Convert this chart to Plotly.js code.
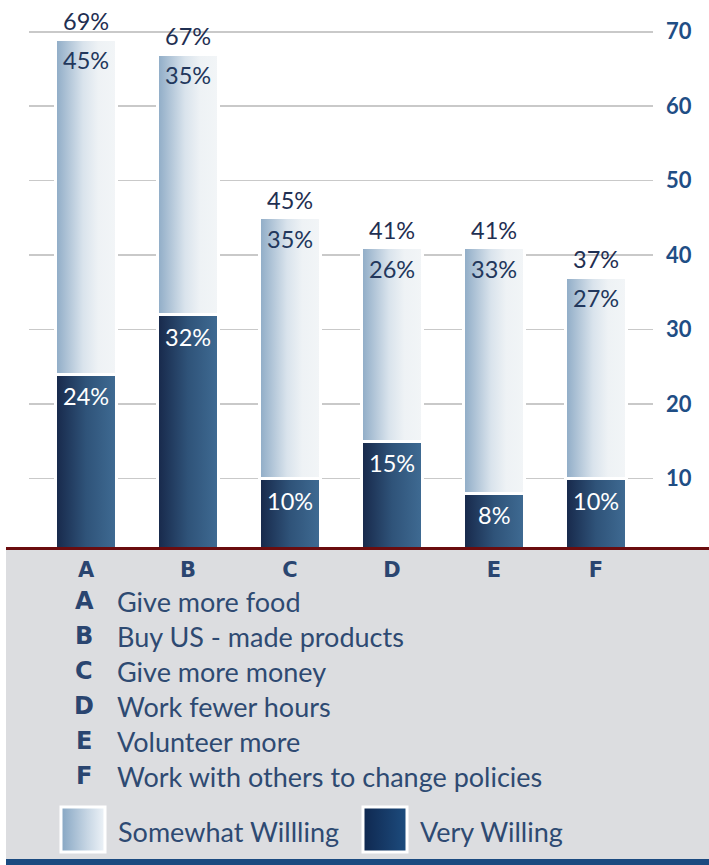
<!DOCTYPE html>
<html><head><meta charset="utf-8">
<script src="https://cdn.plot.ly/plotly-3.0.1.min.js"></script>
<style>html,body{margin:0;padding:0;background:#fff;overflow:hidden}#chart{width:709px;height:865px}</style>
</head><body><div id="chart"></div>
<script>
// ---- data ----
const categories = ['A','B','C','D','E','F'];
const descriptions = ['Give more food','Buy US - made products','Give more money','Work fewer hours','Volunteer more','Work with others to change policies'];
const veryWilling = [24, 32, 10, 15, 8, 10];
const somewhatWilling = [45, 35, 35, 26, 33, 27];
const totalLabels = [69, 67, 45, 41, 41, 37];
const seriesNames = ['Somewhat Willling', 'Very Willing'];
const yTicks = [10, 20, 30, 40, 50, 60, 70];

// ---- geometry helpers (pixel -> paper) ----
const W = 709, H = 865, PL = 29, PR = 653, PT = 2, PB = 550;
const px = x => (x - PL) / (PR - PL);
const py = y => (PB - y) / (PB - PT);

const xs = categories.map((c, i) => i);
const navy = '#1f2f52';
const FONT = 'Lato, "Open Sans", sans-serif';

const data = [
  { type: 'bar', name: seriesNames[1], x: xs, y: veryWilling, width: 0.598,
    marker: { color: '#2c4c74', line: { color: '#ffffff', width: 3 } }, showlegend: false, hoverinfo: 'skip' },
  { type: 'bar', name: seriesNames[0], x: xs, y: somewhatWilling, width: 0.598,
    marker: { color: '#c9d7e3', line: { color: '#ffffff', width: 3 } }, showlegend: false, hoverinfo: 'skip' }
];

const annotations = [];
categories.forEach((c, i) => {
  annotations.push({ xref: 'x', yref: 'y', x: i, y: totalLabels[i], text: totalLabels[i] + '%', showarrow: false,
    yanchor: 'bottom', yshift: 2, font: { family: FONT, size: 23.5, color: navy } });
  annotations.push({ xref: 'x', yref: 'y', x: i, y: veryWilling[i] + somewhatWilling[i], text: somewhatWilling[i] + '%', showarrow: false,
    yanchor: 'top', yshift: -5, font: { family: FONT, size: 23.5, color: '#22375c' } });
  annotations.push({ xref: 'x', yref: 'y', x: i, y: veryWilling[i], text: veryWilling[i] + '%', showarrow: false,
    yanchor: 'top', yshift: -6, font: { family: FONT, size: 23.5, color: '#ffffff' } });
  // legend list
  annotations.push({ xref: 'paper', yref: 'paper', x: px(84), y: py(601 + 35 * i), text: c, showarrow: false,
    xanchor: 'center', yanchor: 'middle', font: { family: '"DejaVu Sans", sans-serif', size: 24, weight: 'bold', color: '#2a4570' } });
  annotations.push({ xref: 'paper', yref: 'paper', x: px(115), y: py(601 + 35 * i), text: descriptions[i], showarrow: false,
    xanchor: 'left', yanchor: 'middle', font: { family: FONT, size: 27, color: '#2e4a72' } });
});
annotations.push({ xref: 'paper', yref: 'paper', x: px(116), y: py(831), text: seriesNames[0], showarrow: false,
  xanchor: 'left', yanchor: 'middle', font: { family: FONT, size: 27, color: '#2e4a72' } });
annotations.push({ xref: 'paper', yref: 'paper', x: px(418), y: py(831), text: seriesNames[1], showarrow: false,
  xanchor: 'left', yanchor: 'middle', font: { family: FONT, size: 27, color: '#2e4a72' } });

const shapes = [
  { type: 'rect', xref: 'paper', yref: 'paper', x0: px(6), x1: px(712), y0: py(550), y1: py(859), fillcolor: '#dcdde0', line: { width: 0 }, layer: 'below' },
  { type: 'rect', xref: 'paper', yref: 'paper', x0: px(6), x1: px(712), y0: py(547), y1: py(550), fillcolor: '#6b0d0f', line: { width: 0 }, layer: 'above' },
  { type: 'rect', xref: 'paper', yref: 'paper', x0: px(6), x1: px(712), y0: py(859), y1: py(868), fillcolor: '#1b4a80', line: { width: 0 }, layer: 'above' },
  { type: 'rect', xref: 'paper', yref: 'paper', x0: px(61), x1: px(105), y0: py(852), y1: py(807), fillcolor: '#b8cadb', line: { color: '#ffffff', width: 3 }, layer: 'above' },
  { type: 'rect', xref: 'paper', yref: 'paper', x0: px(363), x1: px(407), y0: py(852), y1: py(807), fillcolor: '#163a68', line: { color: '#ffffff', width: 3 }, layer: 'above' }
];

const layout = {
  width: W, height: H,
  margin: { l: PL, r: W - PR, t: PT, b: H - PB, pad: 0 },
  paper_bgcolor: '#ffffff', plot_bgcolor: 'rgba(0,0,0,0)',
  barmode: 'stack', showlegend: false,
  xaxis: { range: [-0.559, 5.559], tickvals: xs, ticktext: categories, showgrid: false, zeroline: false, showline: false,
    ticks: '', ticklabelstandoff: 5, tickfont: { family: '"DejaVu Sans", sans-serif', size: 21, weight: 'bold', color: '#2a4570' } },
  yaxis: { side: 'right', range: [0.4, 74], tickvals: yTicks, showgrid: true, gridcolor: '#c9c9c9', gridwidth: 1.5,
    zeroline: false, showline: false, ticks: '', ticklabelstandoff: 12,
    tickfont: { family: FONT, size: 22, weight: 'bold', color: '#1f4e85' } },
  annotations: annotations, shapes: shapes
};

function applyGradients(gd) {
  const NS = 'http://www.w3.org/2000/svg';
  const svg = gd.querySelector('svg.main-svg');
  let defs = svg.querySelector('defs');
  if (!defs) { defs = document.createElementNS(NS, 'defs'); svg.insertBefore(defs, svg.firstChild); }
  function addGrad(id, stops) {
    if (document.getElementById(id)) return;
    const g = document.createElementNS(NS, 'linearGradient');
    g.setAttribute('id', id); g.setAttribute('x1', '0'); g.setAttribute('x2', '1'); g.setAttribute('y1', '0'); g.setAttribute('y2', '0');
    stops.forEach(([o, c]) => { const s = document.createElementNS(NS, 'stop'); s.setAttribute('offset', o); s.setAttribute('stop-color', c); g.appendChild(s); });
    defs.appendChild(g);
  }
  addGrad('gLight', [[0, '#8eabc6'], [0.45, '#d9e3ec'], [0.7, '#eef2f5'], [1, '#f2f5f7']]);
  addGrad('gDark', [[0, '#17284a'], [0.5, '#2f5379'], [1, '#3f6b93']]);
  addGrad('gSwLight', [[0, '#86a6c3'], [0.6, '#c7d6e4'], [1, '#eef3f8']]);
  addGrad('gSwDark', [[0, '#0f2850'], [1, '#1d4c7e']]);
  const traces = svg.querySelectorAll('.barlayer .trace');
  if (traces[0]) traces[0].querySelectorAll('path').forEach(p => p.style.fill = 'url(#gDark)');
  if (traces[1]) traces[1].querySelectorAll('path').forEach(p => p.style.fill = 'url(#gLight)');
  gd.querySelectorAll('path').forEach(p => {
    const f = (p.style.fill || p.getAttribute('fill') || '').replace(/\s/g, '');
    if (f === 'rgb(184,202,219)' || f === '#b8cadb') p.style.fill = 'url(#gSwLight)';
    if (f === 'rgb(22,58,104)' || f === '#163a68') p.style.fill = 'url(#gSwDark)';
  });
}

Plotly.newPlot('chart', data, layout, { staticPlot: true, displayModeBar: false }).then(gd => {
  applyGradients(gd);
  setTimeout(() => applyGradients(gd), 50);
});
</script></body></html>
